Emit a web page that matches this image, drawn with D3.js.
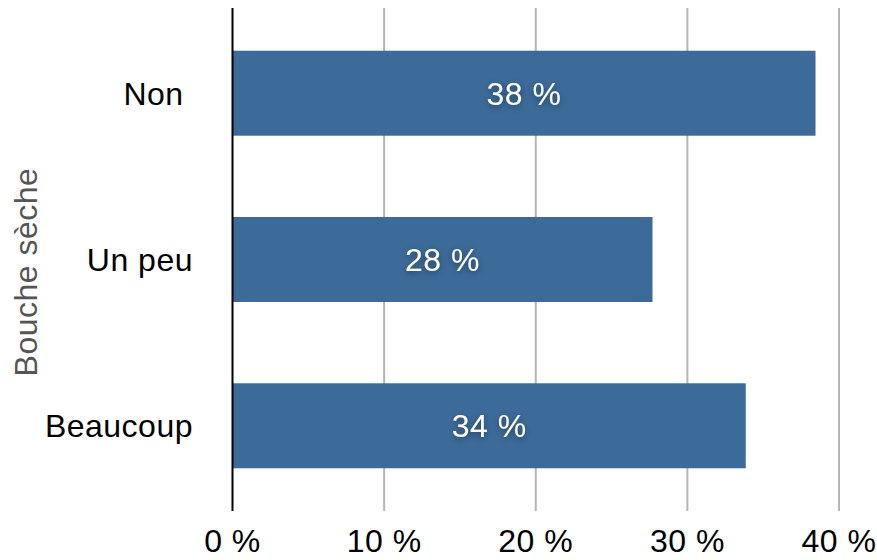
<!DOCTYPE html>
<html>
<head>
<meta charset="utf-8">
<script src="https://cdn.jsdelivr.net/npm/d3@7"></script>
<style>
  html, body { margin: 0; padding: 0; background: #fff; }
  svg { display: block; font-family: "Liberation Sans", Arial, Helvetica, sans-serif; }
</style>
</head>
<body>
<svg id="chart" width="877" height="560"></svg>
<script>
const categories = ["Non\u00A0", "Un peu", "Beaucoup"];
const values = [38.45, 27.7, 33.85];
const valueLabels = ["38 %", "28 %", "34 %"];
const tickValues = [0, 10, 20, 30, 40];
const tickLabels = ["0 %", "10 %", "20 %", "30 %", "40 %"];
const axisTitle = "Bouche sèche";

(function () {
const svg = d3.select("#chart");
const mLeft = 232.5, mRight = 839, mTop = 8, mBottom = 511;
const fs = 32, ls = "0.5px";

const x = d3.scaleLinear().domain([0, 40]).range([mLeft, mRight]);
const y = d3.scaleBand().domain(categories).range([mTop, mBottom])
  .paddingInner(0.489).paddingOuter(0.257);

const defs = svg.append("defs");
const f = defs.append("filter").attr("id", "shadow")
  .attr("x", "-20%").attr("y", "-40%").attr("width", "140%").attr("height", "180%");
f.append("feDropShadow").attr("dx", 0).attr("dy", 2).attr("stdDeviation", 3)
  .attr("flood-color", "#000").attr("flood-opacity", 0.4);

// gridlines
svg.append("g").selectAll("line").data(tickValues.slice(1)).join("line")
  .attr("x1", d => x(d)).attr("x2", d => x(d))
  .attr("y1", mTop).attr("y2", mBottom)
  .attr("stroke", "#b5b5b5").attr("stroke-width", 2);

// bars
svg.append("g").selectAll("rect").data(categories).join("rect")
  .attr("x", x(0)).attr("y", d => y(d))
  .attr("width", (d, i) => x(values[i]) - x(0))
  .attr("height", y.bandwidth())
  .attr("fill", "#3c6a99");

// zero axis line
svg.append("line")
  .attr("x1", x(0)).attr("x2", x(0)).attr("y1", mTop).attr("y2", mBottom)
  .attr("stroke", "#000").attr("stroke-width", 2);

// value labels
svg.append("g").selectAll("text").data(categories).join("text")
  .attr("x", (d, i) => (x(0) + x(values[i])) / 2)
  .attr("y", d => y(d) + y.bandwidth() / 2)
  .attr("dy", "0.36em")
  .attr("text-anchor", "middle")
  .attr("fill", "#fff")
  .attr("font-size", fs)
  .style("letter-spacing", ls)
  .attr("filter", "url(#shadow)")
  .text((d, i) => valueLabels[i]);

// category labels
svg.append("g").selectAll("text").data(categories).join("text")
  .attr("x", 193)
  .attr("y", d => y(d) + y.bandwidth() / 2)
  .attr("dy", "0.36em")
  .attr("text-anchor", "end")
  .attr("fill", "#000")
  .attr("font-size", fs)
  .style("letter-spacing", ls)
  .style("white-space", "pre")
  .text(d => d);

// x tick labels
svg.append("g").selectAll("text").data(tickValues).join("text")
  .attr("x", d => x(d))
  .attr("y", 552)
  .attr("text-anchor", "middle")
  .attr("fill", "#000")
  .attr("font-size", fs)
  .style("letter-spacing", ls)
  .text((d, i) => tickLabels[i]);

// axis title
svg.append("text")
  .attr("transform", `translate(37,${(172 + 372) / 2}) rotate(-90)`)
  .attr("text-anchor", "middle")
  .attr("fill", "#555")
  .attr("font-size", fs)
  .style("letter-spacing", ls)
  .text(axisTitle);
})();
</script>
</body>
</html>
